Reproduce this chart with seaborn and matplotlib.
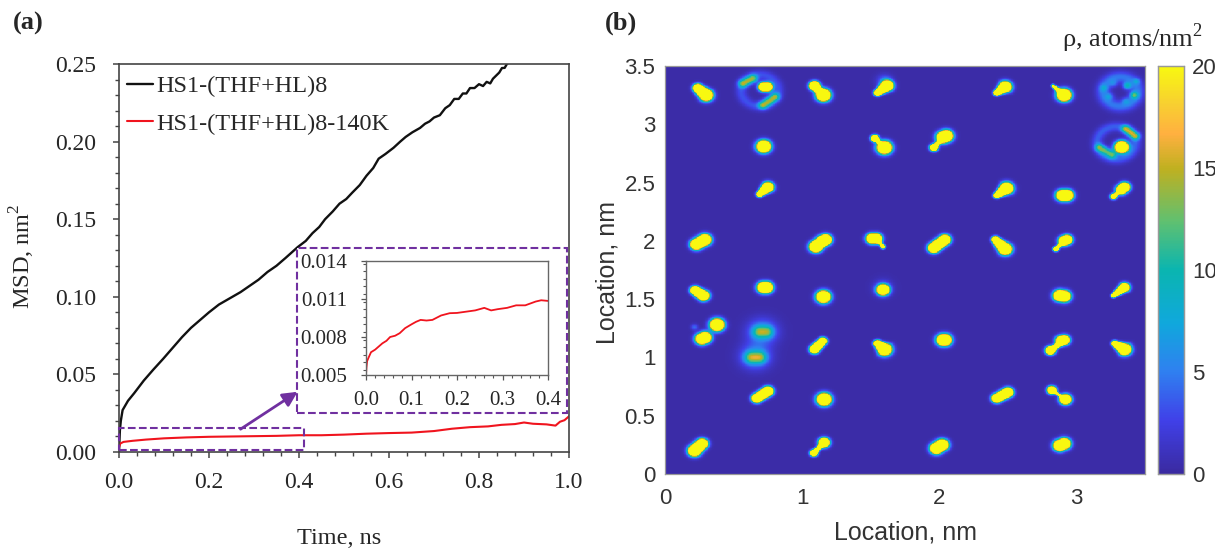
import numpy as np
import matplotlib
matplotlib.use('Agg')
import matplotlib.pyplot as plt
import seaborn as sns
from matplotlib.colors import LinearSegmentedColormap
from matplotlib.patches import Rectangle
from matplotlib.ticker import MultipleLocator

# MSD curves
t_black = [0, .002, .004, .008, .02, .034, .055, .076, .098, .119, .14, .16, .18, .2, .222, .246, .27, .29, .31, .33,
           .35, .37, .397, .415, .43, .445, .458, .475, .49, .505, .518, .535, .55, .565, .577, .592, .61, .625, .637,
           .652, .669, .68, .69, .70, .713, .725, .735, .745, .755, .764, .772, .78, .79, .80, .809, .817, .825, .831,
           .838, .845, .851, .857, .862, .87]
msd_black = [0, .014, .020, .027, .033, .038, .046, .053, .060, .067, .074, .080, .085, .090, .095, .099, .103, .107,
             .111, .116, .120, .125, .132, .136, .141, .145, .150, .155, .160, .163, .167, .172, .178, .183, .189, .192,
             .196, .200, .203, .206, .2088, .2115, .213, .2155, .217, .2215, .2235, .2275, .2275, .2310, .2310, .2345,
             .2345, .2370, .2358, .2385, .2375, .2405, .2425, .2445, .2474, .2475, .25, .252]

t_red = [0, .003, .01, .03, .06, .1, .15, .2, .25, .3, .35, .4, .45, .5, .55, .6, .65, .7, .74, .78, .82, .85, .88,
         .9, .92, .95, .97, .98, .99, 1.0]
msd_red = [.003, .0055, .0065, .0072, .0080, .0088, .0094, .0098, .0100, .0102, .0104, .0108, .0108, .0112, .0118,
           .0122, .0125, .0135, .0150, .0160, .0165, .0175, .0180, .0190, .0182, .0178, .0170, .0195, .0205, .0230]

t_inset = [0, .001, .0025, .006, .011, .02, .036, .045, .053, .064, .074, .086, .1, .11, .12, .133, .146, .165, .184,
           .2, .22, .24, .26, .275, .29, .31, .33, .35, .373, .385, .4]
msd_inset = [.005, .0056, .0061, .0064, .0068, .0070, .0075, .0077, .0080, .0081, .0083, .0087, .0090, .0092, .00935,
             .0093, .00935, .0097, .00988, .0099, .0100, .0101, .0103, .0101, .0102, .0103, .0105, .0105, .0108, .0109,
             .01085]

# density spots of panel (b): start and end of each spot in nm, radius at both ends, peak
spot_x0 = [.24, .57, .72, .715, 1.09, 1.155, 1.62, 2.48, 2.91, 2.83,
           3.33, .72, 1.53, 1.60, 2.03, 1.96, 3.17, 3.36, .75, 2.49,
           2.90, 3.35, 3.27, .29, 1.17, 1.10, 1.51, 1.59, 2.04, 2.41,
           2.93, 2.85, .22, .74, 1.155, 1.59, 2.88, 3.35, .38, .27,
           1.15, 1.55, 2.04, 2.91, 2.81, 3.28, .75, 1.16, 2.50, 2.82,
           2.92, .27, 1.16, 1.085, 2.02, 2.91, 1.09, 1.53, 2.03, 1.17,
           2.91, 3.35, 1.54, 2.91, 2.82, 1.16, 3.37, 3.42, 3.24, 3.20,
           3.44, 3.36, 3.27, .69, .63]
spot_y0 = [3.31, 3.35, 3.32, 3.165, 3.33, 3.25, 3.33, 3.32, 3.25, 3.33,
           2.805, 2.81, 2.88, 2.80, 2.89, 2.80, 2.80, 2.96, 2.46, 2.45,
           2.39, 2.46, 2.38, 2.01, 2.01, 1.95, 2.02, 1.95, 2.01, 2.01,
           2.01, 1.93, 1.575, 1.60, 1.52, 1.58, 1.53, 1.60, 1.28, 1.16,
           1.14, 1.12, 1.15, 1.15, 1.06, 1.12, .71, .64, .70, .72,
           .64, .26, .27, .18, .25, .26, 3.33, 2.88, 2.89, 2.01,
           2.00, 2.46, 2.02, 1.145, .72, .27, 3.33, 3.25, 3.24, 3.31,
           3.37, 3.20, 3.35, 1.22, 1.00]
spot_x1 = [.30, .64, .745, .80, 1.09, 1.155, 1.55, 2.42, 2.91, 2.89,
           3.33, .72, 1.53, 1.60, 2.05, 1.96, 3.26, 3.43, .69, 2.42,
           2.93, 3.33, 3.27, .23, 1.15, 1.10, 1.54, 1.59, 1.96, 2.48,
           2.91, 2.85, .28, .72, 1.155, 1.59, 2.91, 3.27, .38, .29,
           1.09, 1.60, 2.03, 2.89, 2.81, 3.35, .67, 1.16, 2.42, 2.82,
           2.92, .215, 1.16, 1.085, 1.98, 2.88, 1.155, 1.60, 1.96, 1.10,
           2.85, 3.27, 1.59, 2.81, 2.92, 1.085, 3.37, 3.42, 3.24, 3.20,
           3.44, 3.36, 3.27, .74, .69]
spot_y1 = [3.25, 3.39, 3.32, 3.235, 3.33, 3.25, 3.27, 3.27, 3.25, 3.27,
           2.805, 2.81, 2.88, 2.80, 2.90, 2.80, 2.74, 2.90, 2.40, 2.39,
           2.39, 2.44, 2.38, 1.97, 2.00, 1.95, 2.02, 1.95, 1.94, 1.93,
           2.00, 1.93, 1.53, 1.60, 1.52, 1.58, 1.525, 1.53, 1.28, 1.17,
           1.07, 1.07, 1.15, 1.145, 1.06, 1.07, .65, .64, .65, .72,
           .64, .20, .27, .18, .22, .245, 3.25, 2.80, 2.80, 1.95,
           1.93, 2.38, 1.95, 1.06, .64, .18, 3.33, 3.25, 3.24, 3.31,
           3.37, 3.20, 3.35, 1.22, 1.00]
spot_r0 = [.030, .034, .032, .034, .032, .044, .038, .040, .044, .012,
           .042, .044, .024, .046, .042, .026, .032, .032, .036, .042,
           .040, .034, .022, .040, .038, .040, .036, .016, .036, .024,
           .034, .018, .030, .040, .044, .038, .040, .032, .044, .040,
           .026, .024, .042, .034, .030, .020, .034, .045, .034, .028,
           .036, .036, .034, .024, .040, .040, .022, .014, .016, .024,
           .014, .014, .014, .018, .012, .016, .030, .030, .030, .030,
           .025, .030, .030, .050, .050]
spot_r1 = [.042, .034, .032, .034, .032, .044, .022, .020, .044, .020,
           .042, .044, .024, .046, .042, .026, .032, .032, .020, .020,
           .040, .034, .022, .038, .038, .040, .036, .016, .036, .042,
           .034, .018, .036, .040, .044, .038, .040, .014, .044, .040,
           .030, .045, .042, .034, .030, .042, .032, .045, .032, .028,
           .036, .040, .034, .024, .040, .040, .022, .014, .016, .024,
           .014, .014, .014, .018, .012, .016, .030, .030, .030, .030,
           .025, .030, .030, .050, .050]
spot_peak = [60, 12, 60, 12, 60, 60, 60, 60, 60, 30,
             60, 60, 60, 60, 60, 45, 11, 12, 60, 60,
             60, 60, 30, 60, 60, 60, 60, 25, 60, 60,
             60, 30, 60, 60, 60, 60, 60, 60, 60, 60,
             60, 60, 60, 60, 60, 60, 60, 60, 60, 60,
             60, 60, 60, 45, 60, 60, 40, 30, 30, 50,
             30, 25, 20, 40, 25, 40, 8, 9, 4, 3.5,
             4, 3.5, 3, 9, 10]

# faint rings and clouds: centre, ring radius, width, peak
ring_x = [.69, 3.32, 3.29, .71, .66, 1.60, 1.59, .215]
ring_y = [3.29, 3.28, 2.84, 1.22, 1.01, 3.37, 1.60, 1.26]
ring_R = [.135, .125, .14, .0, .0, .0, .0, .0]
ring_w = [.04, .05, .04, .105, .105, .055, .07, .025]
ring_peak = [3, 4.5, 3.5, 6, 6, 4, 2.5, 4]

# parula-like colours of the colour bar
cbar_colors = ['#3a2aa0', '#4040e8', '#2f80f0', '#10a8dc', '#0ab5b0', '#60c070', '#c0b020', '#ffb040', '#f8d030',
               '#f8f810']
cbar_stops = [0, .13, .25, .37, .5, .62, .75, .835, .91, 1]

x_ticks_b = [0, 1, 2, 3]
y_ticks_b = [0, .5, 1, 1.5, 2, 2.5, 3, 3.5]
y_labels_b = ['0', '0.5', '1', '1.5', '2', '2.5', '3', '3.5']
cbar_ticks = [0, 5, 10, 15, 20]

W, H = 1215, 550
PURPLE = '#7030a0'
DARK = '#262626'
SERIF = ['Liberation Serif', 'DejaVu Serif']
SANS = ['Liberation Sans', 'DejaVu Sans']


def px_axes(left, top, right, bottom):
    # axes rectangle given in pixels of the picture
    return fig.add_axes([left / W, 1 - bottom / H, (right - left) / W, (bottom - top) / H])


sns.set_theme(style='ticks')
plt.rcParams['font.family'] = SERIF
plt.rcParams['text.color'] = DARK
plt.rcParams['axes.labelcolor'] = DARK
plt.rcParams['xtick.color'] = DARK
plt.rcParams['ytick.color'] = DARK
plt.rcParams['mathtext.fontset'] = 'custom'
plt.rcParams['mathtext.rm'] = 'Liberation Serif'

fig = plt.figure(figsize=(W / 100, H / 100), dpi=100)

# panel (a)
ax = px_axes(119, 64, 569, 452)
sns.lineplot(x=t_black, y=msd_black, color='#111111', lw=1.7, estimator=None, ax=ax, label='HS1-(THF+HL)8')
sns.lineplot(x=t_red, y=msd_red, color='#f0141e', lw=1.5, estimator=None, ax=ax, label='HS1-(THF+HL)8-140K')
ax.set_xlim(0, 1)
ax.set_ylim(0, .25)
ax.xaxis.set_major_locator(MultipleLocator(.2))
ax.xaxis.set_minor_locator(MultipleLocator(.04))
ax.yaxis.set_major_locator(MultipleLocator(.05))
ax.yaxis.set_minor_locator(MultipleLocator(.01))
ax.xaxis.set_major_formatter(lambda v, p: f'{v:.1f}')
ax.yaxis.set_major_formatter(lambda v, p: f'{v:.2f}')
ax.tick_params(which='major', length=4.5, width=1.1, labelsize=17, color='#444444')
ax.tick_params(which='minor', length=3, width=1, color='#444444')
ax.tick_params(axis='x', which='major', pad=10)
ax.tick_params(axis='y', which='major', pad=12)
for s in ax.spines.values():
    s.set_visible(True)
    s.set_color('#444444')
    s.set_linewidth(1.2)
ax.set_xlabel('Time, ns', fontsize=17.5)
ax.set_ylabel('MSD, nm$^{2}$', fontsize=17.5)
ax.xaxis.set_label_coords(.49, -.195)
ax.yaxis.set_label_coords(-.182, .505)
ax.legend(loc='upper left', frameon=False, fontsize=17.5, handlelength=1.08, handletextpad=.12, labelspacing=.62,
          bbox_to_anchor=(-.015, 1.008), borderaxespad=.2)

# the two dashed boxes and the arrow between them
ax.add_patch(Rectangle((0, .0015), .41, .014, fill=False, ec=PURPLE, ls='--', lw=1.5, clip_on=False, zorder=5))
ax.add_patch(Rectangle((.396, .0253), .6, .1062, fc='white', ec=PURPLE, ls='--', lw=1.5, zorder=5))
ax.annotate('', xy=(.397, .0388), xytext=(.27, .0147),
            arrowprops=dict(arrowstyle='-|>', color=PURPLE, lw=2, mutation_scale=22, shrinkA=0, shrinkB=0))

inset = px_axes(366, 261, 548, 375)
inset.set_zorder(6)
sns.lineplot(x=t_inset, y=msd_inset, color='#f0141e', lw=1.3, estimator=None, ax=inset)
inset.set_xlim(0, .4)
inset.set_ylim(.005, .014)
inset.set_xticks([0, .1, .2, .3, .4])
inset.set_yticks([.005, .008, .011, .014])
inset.xaxis.set_minor_locator(MultipleLocator(.02))
inset.yaxis.set_minor_locator(MultipleLocator(.0006))
inset.xaxis.set_major_formatter(lambda v, p: f'{v:.1f}')
inset.yaxis.set_major_formatter(lambda v, p: f'{v:.3f}')
inset.tick_params(which='major', length=3.5, width=.9, labelsize=15, color='#555555')
inset.tick_params(axis='x', which='major', pad=8)
inset.tick_params(axis='y', which='major', pad=10)
inset.tick_params(which='minor', length=2, width=.8, color='#555555')
for s in inset.spines.values():
    s.set_visible(True)
    s.set_color('#666666')
    s.set_linewidth(1)

# panel (b): density map built from the spots
N = 700
cell = 3.5 / N
gx, gy = np.meshgrid((np.arange(N) + .5) * cell, (np.arange(N) + .5) * cell)
rho = np.full((N, N), .25)
for x0, y0, x1, y1, r0, r1, peak in zip(spot_x0, spot_y0, spot_x1, spot_y1, spot_r0, spot_r1, spot_peak):
    dx, dy = x1 - x0, y1 - y0
    u = np.clip(((gx - x0) * dx + (gy - y0) * dy) / max(dx * dx + dy * dy, 1e-9), 0, 1)
    d = np.hypot(gx - x0 - u * dx, gy - y0 - u * dy)
    rho += peak * np.exp(-(d / (r0 + u * (r1 - r0))) ** 2)
for cx, cy, R, w, peak in zip(ring_x, ring_y, ring_R, ring_w, ring_peak):
    d = np.hypot(gx - cx, gy - cy) - R
    rho += peak * np.exp(-(d / w) ** 2)

cmap = LinearSegmentedColormap.from_list('parula_like', list(zip(cbar_stops, cbar_colors)))
ax2 = px_axes(665, 66, 1145, 474)
cax = px_axes(1158, 66, 1184, 474)
sns.heatmap(rho, vmin=0, vmax=20, cmap=cmap, ax=ax2, cbar_ax=cax, xticklabels=False, yticklabels=False,
            cbar_kws={'ticks': cbar_ticks})
ax2.set_xlim(0, N)
ax2.set_ylim(0, N)
ax2.set_xticks(np.array(x_ticks_b) / cell)
ax2.set_yticks(np.array(y_ticks_b) / cell)
ax2.set_xticklabels([str(v) for v in x_ticks_b], fontsize=16, family=SANS, rotation=0, color='#333333')
ax2.set_yticklabels(y_labels_b, fontsize=16, family=SANS, rotation=0, color='#333333')
ax2.tick_params(direction='in', length=3, width=.7, color='#555555', top=True, right=True)
ax2.tick_params(axis='x', pad=10)
ax2.tick_params(axis='y', pad=7)
for s in ax2.spines.values():
    s.set_visible(True)
    s.set_color('#999999')
    s.set_linewidth(.9)
ax2.set_xlabel('Location, nm', fontsize=18, family=SANS, color='#333333')
ax2.set_ylabel('Location, nm', fontsize=18, family=SANS, color='#333333')
ax2.xaxis.set_label_coords(.5, -.113)
ax2.yaxis.set_label_coords(-.095, .495)

cax.tick_params(direction='in', length=3, width=.7, color='#555555', labelsize=16, pad=6, labelcolor='#333333')
for lab in cax.get_yticklabels():
    lab.set_family(SANS)
for s in cax.spines.values():
    s.set_visible(True)
    s.set_color('#999999')
    s.set_linewidth(.9)

fig.text(13 / W, 1 - 23 / H, '(a)', fontsize=19, fontweight='bold', va='center', ha='left')
fig.text(605 / W, 1 - 23 / H, '(b)', fontsize=19, fontweight='bold', va='center', ha='left')
fig.text(1062 / W, 1 - 38 / H, 'ρ, atoms/nm$^{2}$', fontsize=19, va='center', ha='left')

fig.savefig('out.png', dpi=100)
